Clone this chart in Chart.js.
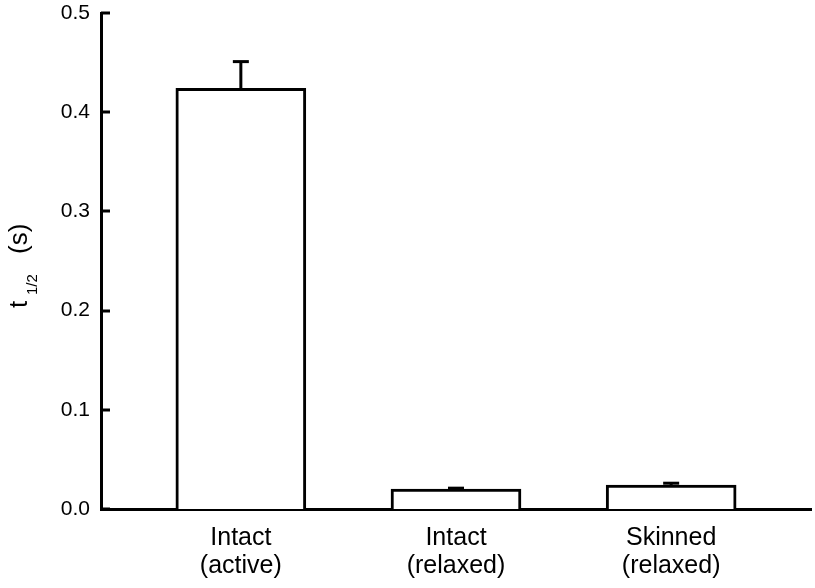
<!DOCTYPE html>
<html>
<head>
<meta charset="utf-8">
<script src="https://cdn.jsdelivr.net/npm/chart.js@4.4.0/dist/chart.umd.min.js"></script>
<style>
html,body{margin:0;padding:0;background:#fff}
#wrap{width:815px;height:588px}
</style>
</head>
<body>
<div id="wrap"><canvas id="c"></canvas></div>
<script>
// 데이터
const CATS=[['Intact','(active)'],['Intact','(relaxed)'],['Skinned','(relaxed)']];
const POS=[1,2,3];
const T_HALF=[0.424,0.020,0.024];
const T_ERR=[0.027,0.001,0.002];
const Y_TICKS=[0,0.1,0.2,0.3,0.4,0.5];

const FONT='"Liberation Sans", Arial, Helvetica, sans-serif';

// 오차막대 (위쪽만)
const errBars={id:'errBars',afterDatasetsDraw(chart){
  const {ctx,scales:{y}}=chart;
  const meta=chart.getDatasetMeta(0);
  ctx.save();
  ctx.strokeStyle='#000';ctx.lineWidth=3;ctx.lineCap='butt';
  meta.data.forEach((el,i)=>{
    const top=y.getPixelForValue(T_HALF[i]+T_ERR[i]);
    ctx.beginPath();ctx.moveTo(el.x,el.y);ctx.lineTo(el.x,top);ctx.stroke();
    ctx.beginPath();ctx.moveTo(el.x-8,top);ctx.lineTo(el.x+8,top);ctx.stroke();
  });
  ctx.restore();
}};

// y축 눈금 안쪽으로
const innerTicks={id:'innerTicks',afterDraw(chart){
  const {ctx,scales:{y}}=chart;
  ctx.save();
  ctx.strokeStyle='#000';ctx.lineWidth=3;
  y.ticks.forEach(t=>{
    const py=Math.round(y.getPixelForValue(t.value));
    ctx.beginPath();ctx.moveTo(y.right,py);ctx.lineTo(y.right+9,py);ctx.stroke();
  });
  ctx.restore();
}};

// y축 제목 t1/2 (s)
const yTitle={id:'yTitle',afterDraw(chart){
  const {ctx}=chart;
  ctx.save();
  ctx.translate(27,308);
  ctx.rotate(-Math.PI/2);
  ctx.fillStyle='#000';ctx.textBaseline='alphabetic';ctx.textAlign='left';
  ctx.font='26px '+FONT;ctx.fillText('t',0,0);
  ctx.font='15px '+FONT;ctx.fillText('1/2',13,10);
  ctx.font='26px '+FONT;ctx.fillText('(s)',54,0);
  ctx.restore();
}};

new Chart(document.getElementById('c'),{
  type:'bar',
  data:{datasets:[{
    data:POS.map((p,i)=>({x:p,y:T_HALF[i]})),
    backgroundColor:'#fff',borderColor:'#000',borderWidth:3,
    barThickness:130,borderSkipped:'start'
  }]},
  options:{
    responsive:true,maintainAspectRatio:false,animation:false,
    layout:{padding:{top:13,right:4,left:0,bottom:0}},
    plugins:{legend:{display:false},tooltip:{enabled:false}},
    scales:{
      x:{type:'linear',min:0.35,max:3.65,offset:false,
        afterBuildTicks:s=>{s.ticks=POS.map(v=>({value:v}));},
        afterFit:s=>{s.height=79;s.paddingLeft=0;s.paddingRight=0;},
        grid:{display:false,drawTicks:false,offset:false},
        border:{display:true,color:'#000',width:3},
        ticks:{color:'#000',font:{family:FONT,size:25,lineHeight:1.13},padding:15,maxRotation:0,autoSkip:false,
          callback:v=>CATS[POS.indexOf(v)]}},
      y:{min:0,max:0.5,
        afterBuildTicks:s=>{s.ticks=Y_TICKS.map(v=>({value:v}));},
        afterFit:s=>{s.width=101;s.paddingTop=0;s.paddingBottom=0;},
        grid:{display:false,drawTicks:false},
        border:{display:true,color:'#000',width:3},
        ticks:{color:'#000',font:{family:FONT,size:21},padding:11,
          callback:v=>v.toFixed(1)}}
    }
  },
  plugins:[errBars,innerTicks,yTitle]
});
</script>
</body>
</html>
